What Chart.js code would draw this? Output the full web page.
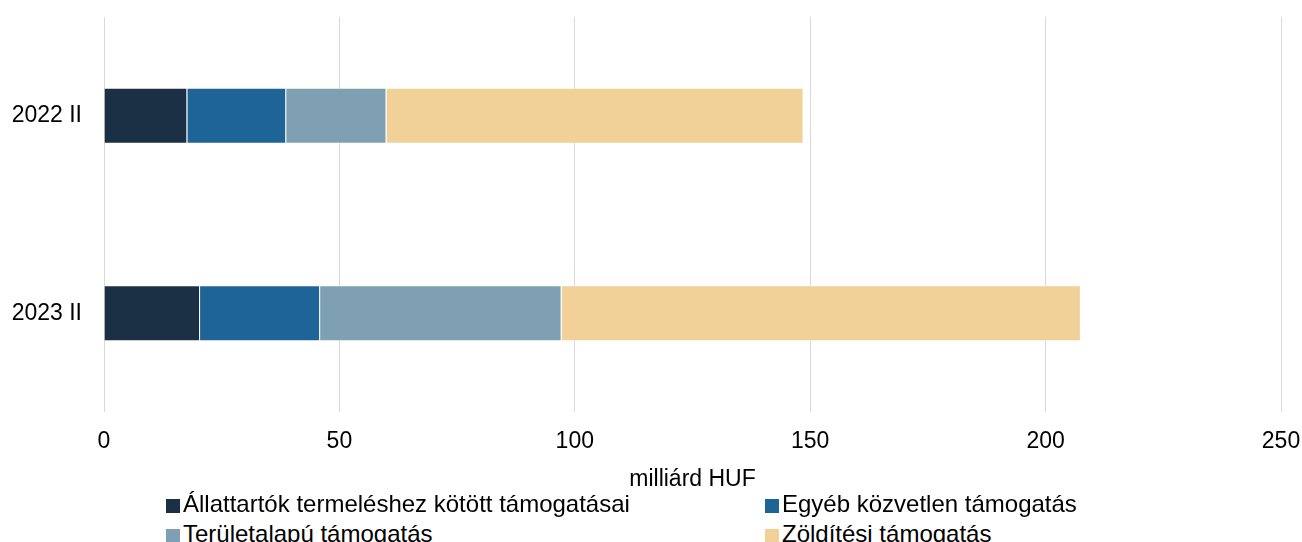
<!DOCTYPE html>
<html>
<head>
<meta charset="utf-8">
<script src="https://cdn.jsdelivr.net/npm/chart.js@4"></script>
<style>
  body { margin: 0; background: #fff; }
  #wrap { position: relative; width: 1302px; height: 542px; font-family: 'Liberation Sans', Arial, sans-serif; }
  #chartBox { position: absolute; left: 0; top: 0; width: 1302px; height: 493px; }
  #legend { position: absolute; left: 0; top: 489px; width: 1302px; }
  .lg { position: absolute; height: 30px; line-height: 30px; font-size: 24px; color: #000; white-space: nowrap; }
  .lg i { display: inline-block; width: 14px; height: 14px; margin-right: 3px; vertical-align: -1px; }
</style>
</head>
<body>
<div id="wrap">
  <div id="chartBox"><canvas id="c"></canvas></div>
  <div id="legend"></div>
</div>
<script>
// ── DATA ───────────────────────────────────────────────
const categories = ['2022 II', '2023 II'];
const seriesNames = [
  'Állattartók termeléshez kötött támogatásai',
  'Egyéb közvetlen támogatás',
  'Területalapú támogatás',
  'Zöldítési támogatás',
];
const allattartok = [17.7, 20.4];
const egyeb       = [21.0, 25.5];
const teruleti    = [21.3, 51.3];
const zolditesi   = [88.6, 110.3];
const xTicks      = [0, 50, 100, 150, 200, 250];
const axisTitle   = 'milliárd HUF';

const COLORS = ['#1b3045', '#1f6496', '#7fa0b3', '#f1d198'];
const FONT   = "'Liberation Sans', Arial, sans-serif";

const values = [allattartok, egyeb, teruleti, zolditesi];

new Chart(document.getElementById('c'), {
  type: 'bar',
  data: {
    labels: categories,
    datasets: seriesNames.map((name, i) => ({
      label: name,
      data: values[i],
      backgroundColor: COLORS[i],
      borderColor: 'rgba(255,255,255,0.35)',
      borderWidth: 1,
      categoryPercentage: 1,
      barPercentage: 0.284,
    })),
  },
  options: {
    indexAxis: 'y',
    responsive: true, maintainAspectRatio: false,
    animation: false,
    layout: { padding: { top: 17, right: 21, left: 0, bottom: 0 } },
    plugins: { legend: { display: false }, tooltip: { enabled: false } },
    scales: {
      x: {
        stacked: true, min: 0, max: 250,
        afterBuildTicks: s => { s.ticks = xTicks.map(v => ({ value: v })); },
        afterFit: s => { s.height = 81; s.paddingLeft = 0; s.paddingRight = 0; },
        ticks: { color: '#000', font: { family: FONT, size: 23 }, padding: 16, maxRotation: 0 },
        grid: { color: '#d9d9d9', lineWidth: 1, drawTicks: false },
        border: { display: false },
        title: { display: true, text: axisTitle, color: '#000', font: { family: FONT, size: 23 }, padding: 0 },
      },
      y: {
        stacked: true,
        afterFit: s => { s.width = 104; s.paddingTop = 0; s.paddingBottom = 0; },
        ticks: { color: '#000', font: { family: FONT, size: 23 }, padding: 22 },
        grid: { display: false, drawTicks: false },
        border: { display: false },
      },
    },
  },
});

// legend in two fixed columns
const lgPos = [[166, 0], [765, 0], [166, 30], [765, 30]];
const lgEl = document.getElementById('legend');
seriesNames.forEach((name, i) => {
  const d = document.createElement('div');
  d.className = 'lg';
  d.style.left = lgPos[i][0] + 'px';
  d.style.top  = lgPos[i][1] + 'px';
  d.innerHTML = '<i style="background:' + COLORS[i] + '"></i>' + name;
  lgEl.appendChild(d);
});
</script>
</body>
</html>
